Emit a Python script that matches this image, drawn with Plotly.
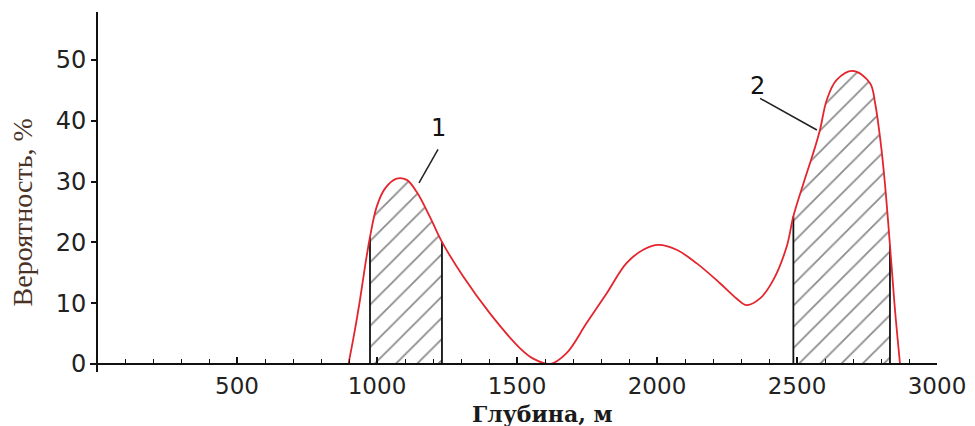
import plotly.graph_objects as go

# ---- data ----
depth = [898, 921, 939, 957, 975, 999, 1029, 1070, 1106, 1142, 1189, 1232,
         1308, 1404, 1511, 1558, 1618, 1677, 1748, 1820, 1891, 1951, 2005,
         2070, 2141, 2225, 2284, 2320, 2368, 2415, 2463, 2487,
         2523, 2558, 2582, 2606, 2641, 2701, 2761, 2779, 2790, 2802, 2814,
         2826, 2832, 2838, 2850, 2868]
prob = [0, 5.6, 10.5, 16.0, 20.9, 25.9, 28.9, 30.5, 30.3, 28.3, 24.2, 20.1,
        14.4, 8.3, 2.6, 0.9, 0, 1.8, 6.7, 11.6, 16.6, 18.8, 19.6,
        18.8, 16.6, 13.3, 10.8, 9.7, 10.8, 13.8, 19.3, 24.3,
        29.7, 34.7, 38.5, 43.4, 46.7, 48.2, 46.2, 42.9, 39.6, 35.2, 29.7,
        23.1, 19.5, 16.0, 8.9, 0]
hatch_ranges = [(975, 1232), (2487, 2832)]
zone_labels = ["1", "2"]
label_text_pos = [(1218, 38.8), (2360, 45.8)]
label_line_start = [(1218, 35.3), (2368, 43.7)]
label_line_end = [(1150, 29.8), (2571, 38.5)]
x_ticks = [500, 1000, 1500, 2000, 2500, 3000]
y_ticks = [0, 10, 20, 30, 40, 50]
x_title = "Глубина, м"
y_title = "Вероятность, %"

x_range = [-25, 3000]
y_range = [-1.3, 57.9]

fig = go.Figure()

# hatched zones
for lo, hi in hatch_ranges:
    xs = [d for d in depth if lo <= d <= hi]
    ys = [p for d, p in zip(depth, prob) if lo <= d <= hi]
    fig.add_trace(go.Scatter(
        x=xs, y=ys, mode="lines", line=dict(width=0, shape="spline"),
        fill="tozeroy", fillcolor="rgba(0,0,0,0)",
        fillpattern=dict(shape="/", fgcolor="#1a1a1a", bgcolor="white",
                         size=15, solidity=0.12),
        hoverinfo="skip", showlegend=False))
    for b in (lo, hi):
        yb = prob[depth.index(b)]
        fig.add_trace(go.Scatter(x=[b, b], y=[0, yb], mode="lines",
                                 line=dict(color="#111111", width=1.8),
                                 hoverinfo="skip", showlegend=False))

# main curve
fig.add_trace(go.Scatter(x=depth, y=prob, mode="lines",
                         line=dict(color="#e3262e", width=1.8, shape="spline"),
                         showlegend=False))

# zone labels with leader lines
for lab, (tx, ty), (sx, sy), (ex, ey) in zip(zone_labels, label_text_pos,
                                             label_line_start, label_line_end):
    fig.add_trace(go.Scatter(x=[sx, ex], y=[sy, ey], mode="lines",
                             line=dict(color="#222222", width=1.5),
                             hoverinfo="skip", showlegend=False))
    fig.add_annotation(x=tx, y=ty, text=lab, showarrow=False,
                       font=dict(family="DejaVu Sans", size=24, color="#111111"))

fig.update_xaxes(
    range=x_range, anchor="free", automargin=False,
    position=(0 - y_range[0]) / (y_range[1] - y_range[0]),
    showline=True, linecolor="#111111", linewidth=2,
    tickvals=x_ticks, ticktext=[str(v) for v in x_ticks],
    ticks="inside", ticklen=6, tickwidth=1.5, tickcolor="#111111",
    minor=dict(dtick=100, tick0=0, ticks="inside", ticklen=4, tickwidth=1.2,
               tickcolor="#111111", showgrid=False),
    tickfont=dict(family="DejaVu Sans", size=23, color="#222222"),
    ticklabelstandoff=1,
    showgrid=False, zeroline=False)
fig.update_yaxes(
    range=y_range, anchor="free", automargin=False,
    position=(0 - x_range[0]) / (x_range[1] - x_range[0]),
    showline=True, linecolor="#111111", linewidth=2,
    tickvals=y_ticks, ticktext=[str(v) for v in y_ticks],
    ticks="outside", ticklen=5, tickwidth=1.5, tickcolor="#111111",
    tickfont=dict(family="DejaVu Sans", size=24, color="#222222"),
    showgrid=False, zeroline=False)

fig.add_annotation(text="<b>" + x_title + "</b>", xref="paper", yref="paper",
                   x=0.534, y=-0.118, showarrow=False, yanchor="middle",
                   font=dict(family="DejaVu Serif", size=22, color="#1a1a1a"))
fig.add_annotation(text=y_title, xref="paper", yref="paper", x=-0.080, y=0.444,
                   showarrow=False, textangle=-90, xanchor="center",
                   yanchor="middle",
                   font=dict(family="Liberation Serif", size=28, color="#4a3226"))

# the page body adds an 8px margin, so the figure is sized to fit the window
fig.update_layout(width=967, height=418,
                  margin=dict(l=82, r=38, t=4, b=54, autoexpand=False),
                  plot_bgcolor="white", paper_bgcolor="white")

fig.write_html("out.html")
